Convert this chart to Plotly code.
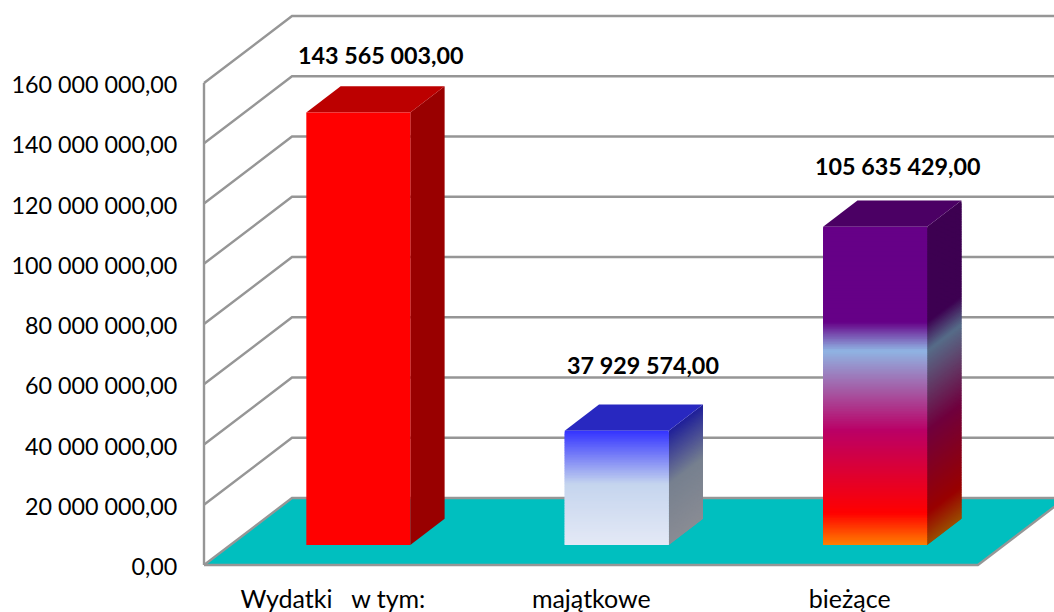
import plotly.graph_objects as go

# ---- data ----
categories = ["Wydatki   w tym:", "majątkowe", "bieżące"]
values = [143565003.00, 37929574.00, 105635429.00]
y_ticks = [0, 20000000, 40000000, 60000000, 80000000, 100000000, 120000000, 140000000, 160000000]
y_tick_labels = ["0,00", "20 000 000,00", "40 000 000,00", "60 000 000,00", "80 000 000,00",
                 "100 000 000,00", "120 000 000,00", "140 000 000,00", "160 000 000,00"]
bar_labels = ["143 565 003,00", "37 929 574,00", "105 635 429,00"]

# ---- style ----
FONT = "Lato"
TXT = 23.3
XTXT = 25
GRID = "#969696"
FLOOR = "#00BFBF"
PX_X = 258.4              # pixels per category
PX_Y = 160000000 / 482    # value units per pixel
X_LEFT, X_RIGHT, X_VIEW = -0.495, 2.5, 2.7945
DEPTH_X = 0.3406          # oblique projection of full depth, category units
DEPTH_Y = 22240000        # oblique projection of full depth, value units
BAR_T0, BAR_T1 = 0.30, 0.69
BAR_HALF = 0.2012
SIDE = 0.60
# gradient stops: (fraction from the top of the bar, colour)
stops = [
    [(0, (255, 0, 0)), (1, (255, 0, 0))],
    [(0, (51, 51, 255)), (0.47, (197, 213, 238)), (1, (228, 233, 246))],
    [(0, (102, 0, 135)), (0.30, (102, 0, 135)), (0.39, (143, 180, 227)),
     (0.64, (186, 0, 102)), (0.90, (255, 0, 0)), (1, (255, 128, 0))],
]
top_colors = ["#BC0000", "#2828C0", "#4B0064"]
bands = [1, 70, 190]
label_dx = [49, 53, 49]
label_dy = [77.5, 86, 81]


def color_at(st, f):
    for (f0, c0), (f1, c1) in zip(st, st[1:]):
        if f <= f1:
            k = 0 if f1 == f0 else (f - f0) / (f1 - f0)
            return tuple(a + (b - a) * k for a, b in zip(c0, c1))
    return st[-1][1]


def rgb(c, m=1.0):
    return "rgb(%d,%d,%d)" % tuple(round(v * m) for v in c)


fig = go.Figure()


def poly(xs, ys, color):
    fig.add_trace(go.Scatter(x=xs, y=ys, mode="lines", fill="toself", fillcolor=color,
                             line=dict(width=0, color=color),
                             hoverinfo="skip", showlegend=False))


def wall_line(xs, ys):
    fig.add_trace(go.Scatter(x=xs, y=ys, mode="lines", line=dict(color=GRID, width=2.4),
                             hoverinfo="skip", showlegend=False))


# floor
poly([X_LEFT, X_LEFT + DEPTH_X, X_RIGHT + DEPTH_X, X_RIGHT],
     [0, DEPTH_Y, DEPTH_Y, 0], FLOOR)
# walls
for t in y_ticks:
    wall_line([X_LEFT, X_LEFT + DEPTH_X, X_RIGHT + DEPTH_X],
              [t, t + DEPTH_Y, t + DEPTH_Y])
wall_line([X_LEFT, X_LEFT], [0, y_ticks[-1]])
wall_line([X_LEFT, X_RIGHT, X_RIGHT + DEPTH_X], [0, 0, DEPTH_Y])

# bars
for i, v in enumerate(values):
    x0 = i - BAR_HALF + BAR_T0 * DEPTH_X
    x1 = i + BAR_HALF + BAR_T0 * DEPTH_X
    dx = (BAR_T1 - BAR_T0) * DEPTH_X
    base = BAR_T0 * DEPTH_Y
    dy = (BAR_T1 - BAR_T0) * DEPTH_Y
    n = bands[i]
    # each band overlaps the next one, which paints over it: no seams
    for k in range(n):
        f = k / n
        c = color_at(stops[i], (k + 0.5) / n)
        level = base + v * (1 - f)
        low = max(base, level - 2.5 * v / n)
        poly([x1, x1 + dx, x1 + dx, x1], [low, low + dy, level + dy, level], rgb(c, SIDE))
    poly([x0, x0 + dx, x1 + dx, x1], [base + v, base + v + dy, base + v + dy, base + v], top_colors[i])
    for k in range(n):
        f = k / n
        c = color_at(stops[i], (k + 0.5) / n)
        level = base + v * (1 - f)
        low = max(base, level - 2.5 * v / n)
        poly([x0, x1, x1, x0], [low, low, level, level], rgb(c))

annotations = [
    dict(x=i, y=values[i], text="<b>%s</b>" % bar_labels[i], showarrow=False,
         xshift=label_dx[i], yshift=label_dy[i], xanchor="center", yanchor="middle",
         font=dict(family=FONT, size=TXT, color="black"))
    for i in range(3)
]

fig.update_layout(
    width=1054, height=612, autosize=False,
    margin=dict(l=198, r=0, t=0, b=44, pad=0),
    paper_bgcolor="white", plot_bgcolor="white",
    showlegend=False,
    annotations=annotations,
    font=dict(family=FONT, size=TXT, color="black"),
    xaxis=dict(range=[X_LEFT - 6 / PX_X, X_VIEW], tickmode="array", tickvals=[0, 1, 2], ticktext=categories,
               showgrid=False, zeroline=False, showline=False, ticks="outside", ticklen=9,
               tickcolor="rgba(0,0,0,0)", ticklabelshift=1, tickfont=dict(family=FONT, size=XTXT)),
    yaxis=dict(range=[-3 * PX_Y, 565 * PX_Y], tickmode="array", tickvals=y_ticks, ticktext=y_tick_labels,
               showgrid=False, zeroline=False, showline=False,
               ticks="outside", ticklen=15, tickcolor="rgba(0,0,0,0)", ticklabelshift=2,
               tickfont=dict(family=FONT, size=TXT)),
)

fig.write_html("out.html", config=dict(displayModeBar=False),
               post_script="document.body.style.margin='0';document.body.style.overflow='hidden';")
